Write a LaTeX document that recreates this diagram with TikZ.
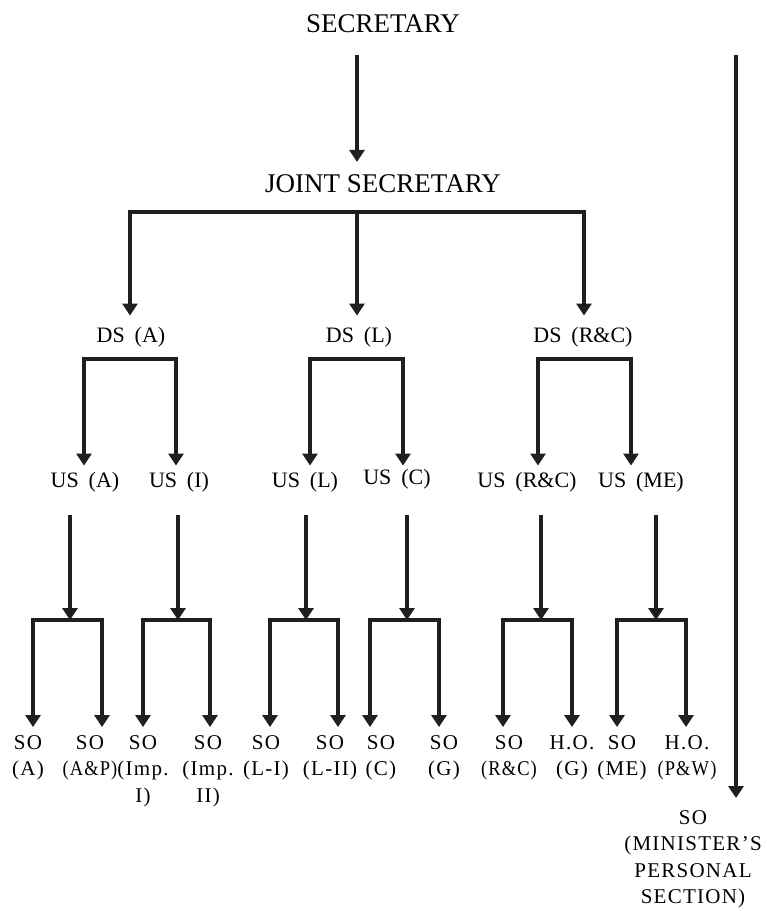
\documentclass[tikz,border=0pt]{standalone}
\usepackage{fontspec}
\setmainfont{Liberation Serif}
\usepackage{graphicx}
\usetikzlibrary{arrows.meta,positioning,calc}

\newcommand{\squeeze}[1]{\scalebox{0.88}[1]{#1}}
\newcommand{\wsp}{\hspace{0.45em}}

\begin{document}
\begin{tikzpicture}[
    x=1pt, y=-1pt,
    big/.style={font=\fontsize{27}{30}\selectfont, inner sep=0pt, anchor=base},
    mid/.style={font=\fontsize{22}{26}\selectfont, inner sep=0pt, anchor=base},
    leaf/.style={font=\fontsize{21}{26.5}\selectfont\addfontfeatures{LetterSpace=6}, inner sep=0pt, anchor=north, align=center},
    line/.style={draw, line width=3.2pt, black!88, line join=miter},
    arrow/.style={line, -{Triangle[width=15pt,length=12pt]}},
    fork/.style={line, {Triangle[width=15pt,length=12pt]}-{Triangle[width=15pt,length=12pt]}}
]
    \useasboundingbox (0,0) rectangle (767,911);

    % Nodes
    \node [big] (sec) at (383,32) {SECRETARY};
    \node [big] (js) at (383,192) {JOINT SECRETARY};

    \node [mid] (dsA) at (131,342) {DS\wsp(A)};
    \node [mid] (dsL) at (359,342) {DS\wsp(L)};
    \node [mid] (dsRC) at (583,342) {DS\wsp(R\&C)};

    \node [mid] (usA) at (85,487) {US\wsp(A)};
    \node [mid] (usI) at (179,487) {US\wsp(I)};
    \node [mid] (usL) at (305,487) {US\wsp(L)};
    \node [mid] (usC) at (397,484) {US\wsp(C)};
    \node [mid] (usRC) at (527,487) {US\wsp(R\&C)};
    \node [mid] (usME) at (641,487) {US\wsp(ME)};

    \node [leaf] (so1) at (28,735) {SO\\(A)};
    \node [leaf] (so2) at (90,735) {SO\\\squeeze{(A\&P)}};
    \node [leaf] (so3) at (143,735) {SO\\(Imp.\\I)};
    \node [leaf] (so4) at (208,735) {SO\\(Imp.\\II)};
    \node [leaf] (so5) at (266,735) {SO\\(L-I)};
    \node [leaf] (so6) at (330,735) {SO\\(L-II)};
    \node [leaf] (so7) at (381,735) {SO\\(C)};
    \node [leaf] (so8) at (444,735) {SO\\(G)};
    \node [leaf] (so9) at (509,735) {SO\\\squeeze{(R\&C)}};
    \node [leaf] (so10) at (572,735) {H.O.\\(G)};
    \node [leaf] (so11) at (622,735) {SO\\(ME)};
    \node [leaf] (so12) at (687,735) {H.O.\\\squeeze{(P\&W)}};
    \node [leaf] (mps) at (693,810) {SO\\(MINISTER’S\\PERSONAL\\SECTION)};

    % Junctions
    \coordinate (secA) at (357,55);
    \coordinate (secB) at (736,55);
    \coordinate (jsL) at (130,212);
    \coordinate (jsM) at (357,212);
    \coordinate (jsR) at (584,212);
    \coordinate (dA1) at (84,359);
    \coordinate (dA2) at (176,359);
    \coordinate (dL1) at (310,359);
    \coordinate (dL2) at (403,359);
    \coordinate (dR1) at (538,359);
    \coordinate (dR2) at (631,359);
    \coordinate (g1) at (70,620);
    \coordinate (g2) at (178,620);
    \coordinate (g3) at (306,620);
    \coordinate (g4) at (407,620);
    \coordinate (g5) at (541,620);
    \coordinate (g6) at (656,620);

    % Edges
    \path [arrow, shorten >=12pt] (secA) -- (secA |- js.north);
    \path [arrow, shorten >=12pt] (secB) -- (secB |- mps.north);

    \path [fork, shorten <=11pt, shorten >=11pt] (jsL |- dsA.north) -- (jsL) -- (jsR) -- (jsR |- dsRC.north);
    \path [arrow, shorten >=11pt] (jsM) -- (jsM |- dsL.north);

    \path [fork, shorten <=6pt, shorten >=6pt] (dA1 |- usA.north) -- (dA1) -- (dA2) -- (dA2 |- usI.north);
    \path [fork, shorten <=6pt, shorten >=6pt] (dL1 |- usL.north) -- (dL1) -- (dL2) -- (dL2 |- usL.north);
    \path [fork, shorten <=6pt, shorten >=6pt] (dR1 |- usRC.north) -- (dR1) -- (dR2) -- (dR2 |- usME.north);

    \path [arrow, shorten <=23pt] (g1 |- usA.south) -- (g1);
    \path [arrow, shorten <=23pt] (g2 |- usI.south) -- (g2);
    \path [arrow, shorten <=23pt] (g3 |- usL.south) -- (g3);
    \path [arrow, shorten <=23pt] (g4 |- usA.south) -- (g4);
    \path [arrow, shorten <=23pt] (g5 |- usRC.south) -- (g5);
    \path [arrow, shorten <=23pt] (g6 |- usME.south) -- (g6);

    \path [fork, shorten <=8pt, shorten >=8pt] (so1.north -| 33,0) -- (33,620) -- (102,620) -- (so2.north -| 102,0);
    \path [fork, shorten <=8pt, shorten >=8pt] (so3.north -| 143,0) -- (143,620) -- (210,620) -- (so4.north -| 210,0);
    \path [fork, shorten <=8pt, shorten >=8pt] (so5.north -| 270,0) -- (270,620) -- (338,620) -- (so6.north -| 338,0);
    \path [fork, shorten <=8pt, shorten >=8pt] (so7.north -| 370,0) -- (370,620) -- (439,620) -- (so8.north -| 439,0);
    \path [fork, shorten <=8pt, shorten >=8pt] (so9.north -| 503,0) -- (503,620) -- (572,620) -- (so10.north -| 572,0);
    \path [fork, shorten <=8pt, shorten >=8pt] (so11.north -| 617,0) -- (617,620) -- (686,620) -- (so12.north -| 686,0);
\end{tikzpicture}
\end{document}
